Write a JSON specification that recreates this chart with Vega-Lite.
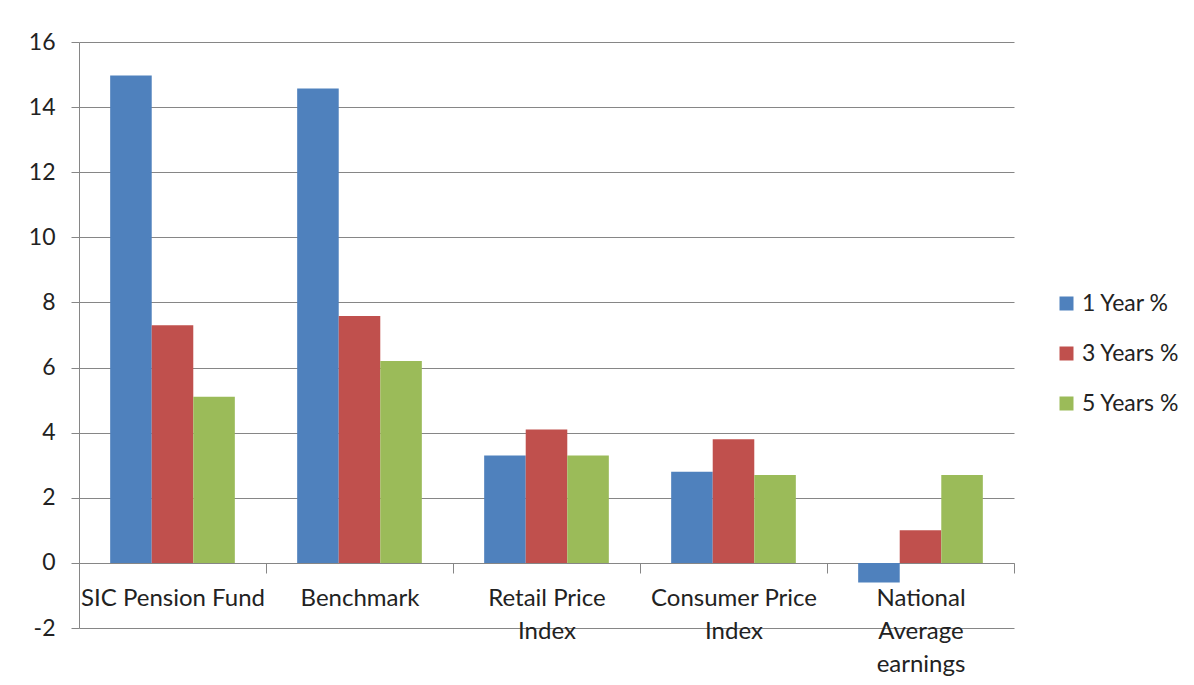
{
  "$schema": "https://vega.github.io/schema/vega-lite/v6.json",
  "autosize": {"type": "none"},
  "padding": {"left": 79, "top": 42, "right": 180, "bottom": 57},
  "width": 935,
  "height": 586,
  "background": "white",
  "config": {
    "view": {"stroke": null},
    "font": "Lato",
    "axis": {"labelFont": "Lato", "labelColor": "#222222", "labelFontSize": 23, "domainColor": "#868686", "tickColor": "#868686", "gridColor": "#868686", "gridOpacity": 1}
  },
  "data": {
    "values": [
      {"category": "SIC Pension Fund", "series": "1 Year %", "value": 14.97},
      {"category": "SIC Pension Fund", "series": "3 Years %", "value": 7.3},
      {"category": "SIC Pension Fund", "series": "5 Years %", "value": 5.1},
      {"category": "Benchmark", "series": "1 Year %", "value": 14.57},
      {"category": "Benchmark", "series": "3 Years %", "value": 7.58},
      {"category": "Benchmark", "series": "5 Years %", "value": 6.2},
      {"category": "Retail Price Index", "series": "1 Year %", "value": 3.3},
      {"category": "Retail Price Index", "series": "3 Years %", "value": 4.1},
      {"category": "Retail Price Index", "series": "5 Years %", "value": 3.3},
      {"category": "Consumer Price Index", "series": "1 Year %", "value": 2.8},
      {"category": "Consumer Price Index", "series": "3 Years %", "value": 3.8},
      {"category": "Consumer Price Index", "series": "5 Years %", "value": 2.7},
      {"category": "National Average earnings", "series": "1 Year %", "value": -0.6},
      {"category": "National Average earnings", "series": "3 Years %", "value": 1.0},
      {"category": "National Average earnings", "series": "5 Years %", "value": 2.7}
    ]
  },
  "mark": {"type": "bar"},
  "encoding": {
    "x": {
      "field": "category",
      "type": "nominal",
      "sort": null,
      "scale": {"paddingInner": 0, "paddingOuter": 0},
      "axis": {
        "title": null,
        "orient": "bottom",
        "offset": -65,
        "labelAngle": 0,
        "labelFontSize": 24,
        "labelLimit": 0,
        "labelOverlap": false,
        "tickBand": "extent",
        "tickSize": 10,
        "labelPadding": 13,
        "labelLineHeight": 33,
        "labelBaseline": "top",
        "grid": false,
        "domain": true,
        "labelExpr": "datum.label == 'Retail Price Index' ? ['Retail Price', 'Index'] : datum.label == 'Consumer Price Index' ? ['Consumer Price', 'Index'] : datum.label == 'National Average earnings' ? ['National', 'Average', 'earnings'] : datum.label"
      }
    },
    "xOffset": {
      "field": "series",
      "type": "nominal",
      "scale": {"paddingInner": 0, "paddingOuter": 0.75}
    },
    "y": {
      "field": "value",
      "type": "quantitative",
      "scale": {"domain": [-2, 16], "nice": false},
      "axis": {
        "title": null,
        "values": [-2, 0, 2, 4, 6, 8, 10, 12, 14, 16],
        "labelExpr": "'' + datum.value",
        "tickSize": 8,
        "labelPadding": 16,
        "grid": true,
        "domain": true
      }
    },
    "color": {
      "field": "series",
      "type": "nominal",
      "scale": {"domain": ["1 Year %", "3 Years %", "5 Years %"], "range": ["#4F81BD", "#C0504D", "#9BBB59"]},
      "legend": {
        "title": null,
        "orient": "none",
        "legendX": 976,
        "legendY": 250,
        "symbolType": "square",
        "symbolSize": 196,
        "symbolStrokeWidth": 0,
        "symbolOpacity": 1,
        "labelFont": "Lato",
        "labelFontSize": 23,
        "labelColor": "#222222",
        "labelOffset": 4,
        "rowPadding": 26
      }
    }
  }
}
